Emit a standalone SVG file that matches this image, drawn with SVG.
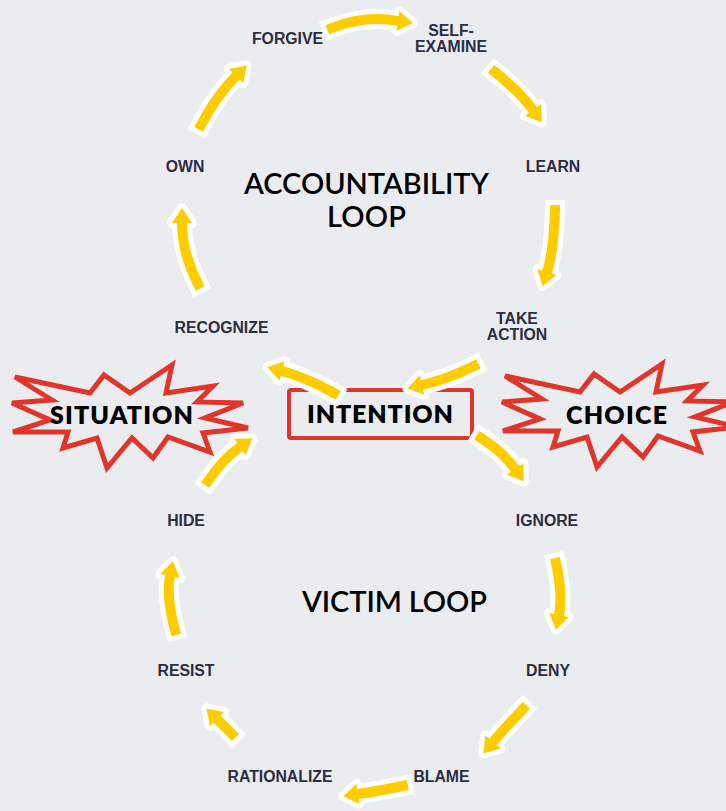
<svg xmlns="http://www.w3.org/2000/svg" xmlns:xlink="http://www.w3.org/1999/xlink" width="726" height="811" viewBox="0 0 726 811">
<style>
.bg{fill:#EBECF0}
.so{fill:none;stroke:#fff;stroke-width:20;stroke-linecap:square;stroke-linejoin:round}
.sf{fill:none;stroke:#FFCC00;stroke-width:10;stroke-linecap:square}
.ho{fill:#fff;stroke:#fff;stroke-width:10;stroke-linejoin:round}
.hf{fill:#FFCC00}
.lbl{font-family:"Liberation Sans",Arial,sans-serif;font-weight:700;font-size:15.8px;fill:#2B2D42;text-anchor:middle}
.title{font-family:Lato,"Open Sans",sans-serif;font-weight:600;font-size:29px;fill:#000;text-anchor:middle}
.key{font-family:Lato,"Open Sans",sans-serif;font-weight:800;font-size:25px;fill:#000;text-anchor:middle}
.burst{fill:none;stroke:#E0352B;stroke-width:5;stroke-linejoin:miter}
.box{fill:none;stroke:#E0352B;stroke-width:4}
</style>
<defs>
<polygon id="star" points="15,377 90,393 104,375 130,393 172,365 166,393 213,386 197,402 243,403 205,418 248,428 203,433 210,452 168,437 153,458 132,438 107,468 97,438 63,448 68,432 13,432 50,420 12,403 52,400"/>
</defs>
<rect class="bg" x="0" y="0" width="726" height="811"/>

<g id="node-situation">
<use xlink:href="#star" class="burst"/>
<text class="key" x="121.5" y="424" textLength="143">SITUATION</text>
</g>
<g id="node-choice">
<use xlink:href="#star" class="burst" transform="translate(490,-1)"/>
<text class="key" x="616.5" y="424" textLength="101">CHOICE</text>
</g>
<g id="node-intention">
<rect class="box" x="289" y="390" width="183" height="48" rx="2"/>
<text class="key" x="380" y="423" textLength="146">INTENTION</text>
</g>

<g id="connectors">
<g><path class="so" d="M332,28 Q365,15 398,21"/><polygon class="ho" points="396.6,30.9 399.4,11.1 412.9,23.1"/><path class="sf" d="M332,28 Q365,15 398,21"/><polygon class="hf" points="396.6,30.9 399.4,11.1 412.9,23.1"/></g>
<g><path class="so" d="M495,72 Q520,92 533,110"/><polygon class="ho" points="524.9,115.9 541.1,104.2 541.8,122.2"/><path class="sf" d="M495,72 Q520,92 533,110"/><polygon class="hf" points="524.9,115.9 541.1,104.2 541.8,122.2"/></g>
<g><path class="so" d="M555,210 Q554,250 547,272"/><polygon class="ho" points="537.5,269 556.5,275 542.5,286.3"/><path class="sf" d="M555,210 Q554,250 547,272"/><polygon class="hf" points="537.5,269 556.5,275 542.5,286.3"/></g>
<g><path class="so" d="M474,366 Q448,379 422,385"/><polygon class="ho" points="419.8,375.3 424.3,394.7 407.4,388.4"/><path class="sf" d="M474,366 Q448,379 422,385"/><polygon class="hf" points="419.8,375.3 424.3,394.7 407.4,388.4"/></g>
<g><path class="so" d="M334,393 Q305,377 282,371"/><polygon class="ho" points="284.5,361.3 279.5,380.7 267.5,367.2"/><path class="sf" d="M334,393 Q305,377 282,371"/><polygon class="hf" points="284.5,361.3 279.5,380.7 267.5,367.2"/></g>
<g><path class="so" d="M481,438 Q503,452 515,469"/><polygon class="ho" points="506.8,474.8 523.2,463.2 523.7,481.3"/><path class="sf" d="M481,438 Q503,452 515,469"/><polygon class="hf" points="506.8,474.8 523.2,463.2 523.7,481.3"/></g>
<g><path class="so" d="M556,563 Q563,595 559,615"/><polygon class="ho" points="549.2,613 568.8,617 556.1,629.7"/><path class="sf" d="M556,563 Q563,595 559,615"/><polygon class="hf" points="549.2,613 568.8,617 556.1,629.7"/></g>
<g><path class="so" d="M523,709 Q505,728 493,742"/><polygon class="ho" points="485.4,735.5 500.6,748.5 483.2,753.4"/><path class="sf" d="M523,709 Q505,728 493,742"/><polygon class="hf" points="485.4,735.5 500.6,748.5 483.2,753.4"/></g>
<g><path class="so" d="M403,786 Q378,791 358,794"/><polygon class="ho" points="356.5,784.1 359.5,803.9 343.2,796.2"/><path class="sf" d="M403,786 Q378,791 358,794"/><polygon class="hf" points="356.5,784.1 359.5,803.9 343.2,796.2"/></g>
<g><path class="so" d="M232,734 L217,719"/><polygon class="ho" points="224.1,711.9 209.9,726.1 206.4,708.4"/><path class="sf" d="M232,734 L217,719"/><polygon class="hf" points="224.1,711.9 209.9,726.1 206.4,708.4"/></g>
<g><path class="so" d="M175,630 Q166,597 170,576"/><polygon class="ho" points="179.8,577.9 160.2,574.1 172.8,561.3"/><path class="sf" d="M175,630 Q166,597 170,576"/><polygon class="hf" points="179.8,577.9 160.2,574.1 172.8,561.3"/></g>
<g><path class="so" d="M208,481 Q224,458 240,447"/><polygon class="ho" points="245.7,455.2 234.3,438.8 252.4,438.5"/><path class="sf" d="M208,481 Q224,458 240,447"/><polygon class="hf" points="245.7,455.2 234.3,438.8 252.4,438.5"/></g>
<g><path class="so" d="M198,284 Q182,252 182,223"/><polygon class="ho" points="192,223 172,223 182,208"/><path class="sf" d="M198,284 Q182,252 182,223"/><polygon class="hf" points="192,223 172,223 182,208"/></g>
<g><path class="so" d="M201,125 Q217,95 236,76"/><polygon class="ho" points="243.1,83.1 228.9,68.9 246.6,65.4"/><path class="sf" d="M201,125 Q217,95 236,76"/><polygon class="hf" points="243.1,83.1 228.9,68.9 246.6,65.4"/></g>
</g>

<g id="title-accountability">
<text class="title" x="366.5" y="194" textLength="245">ACCOUNTABILITY</text>
<text class="title" x="366.5" y="227" textLength="79">LOOP</text>
</g>
<g id="title-victim">
<text class="title" x="394.5" y="612" textLength="185">VICTIM LOOP</text>
</g>

<g id="node-forgive"><text class="lbl" x="287.5" y="44">FORGIVE</text></g>
<g id="node-self-examine"><text class="lbl" x="451" y="36">SELF-</text><text class="lbl" x="451" y="52">EXAMINE</text></g>
<g id="node-learn"><text class="lbl" x="553" y="172">LEARN</text></g>
<g id="node-take-action"><text class="lbl" x="517" y="324">TAKE</text><text class="lbl" x="517" y="340">ACTION</text></g>
<g id="node-own"><text class="lbl" x="185" y="172">OWN</text></g>
<g id="node-recognize"><text class="lbl" x="221.5" y="333">RECOGNIZE</text></g>
<g id="node-hide"><text class="lbl" x="186" y="526">HIDE</text></g>
<g id="node-ignore"><text class="lbl" x="547" y="526">IGNORE</text></g>
<g id="node-resist"><text class="lbl" x="186" y="676">RESIST</text></g>
<g id="node-deny"><text class="lbl" x="548" y="676">DENY</text></g>
<g id="node-rationalize"><text class="lbl" x="280" y="782">RATIONALIZE</text></g>
<g id="node-blame"><text class="lbl" x="441.5" y="782">BLAME</text></g>
</svg>
